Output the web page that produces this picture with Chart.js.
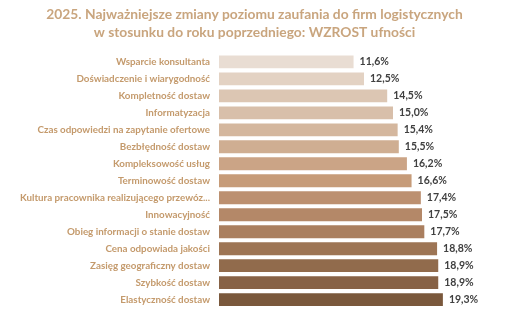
<!DOCTYPE html>
<html>
<head>
<meta charset="utf-8">
<script src="https://cdn.jsdelivr.net/npm/chart.js@4.4.1/dist/chart.umd.min.js"></script>
<style>
    html, body { margin: 0; padding: 0; background: #fff; }
    #wrap { width: 511px; height: 323px; position: relative; }
</style>
</head>
<body>
<div id="wrap"><canvas id="trustChart"></canvas></div>
<script>
// 2025 - increase in trust, values in %
const categories = [
    'Wsparcie konsultanta',
    'Doświadczenie i wiarygodność',
    'Kompletność dostaw',
    'Informatyzacja',
    'Czas odpowiedzi na zapytanie ofertowe',
    'Bezbłędność dostaw',
    'Kompleksowość usług',
    'Terminowość dostaw',
    'Kultura pracownika realizującego przewóz...',
    'Innowacyjność',
    'Obieg informacji o stanie dostaw',
    'Cena odpowiada jakości',
    'Zasięg geograficzny dostaw',
    'Szybkość dostaw',
    'Elastyczność dostaw'
];
const increase = [11.6, 12.5, 14.5, 15.0, 15.4, 15.5, 16.2, 16.6, 17.4, 17.5, 17.7, 18.8, 18.9, 18.9, 19.3];
const barColors = [
    '#e9ddd3', '#e3d2c3', '#dcc6b3', '#d8bfaa', '#d4b79e',
    '#cfae92', '#cba486', '#c69b78', '#bc9070', '#b48868',
    '#aa7f5f', '#9d7555', '#916b4c', '#876246', '#7a583c'
];

const FONT = 'Lato, "Open Sans", sans-serif';

// draws "11,6%" right of every bar
const valueLabels = {
    id: 'valueLabels',
    afterDatasetsDraw(chart) {
        const ctx = chart.ctx;
        const meta = chart.getDatasetMeta(0);
        ctx.save();
        ctx.font = 'bold 10.5px ' + FONT;
        ctx.fillStyle = '#404040';
        ctx.textBaseline = 'middle';
        ctx.textAlign = 'left';
        meta.data.forEach((bar, i) => {
            const txt = increase[i].toFixed(1).replace('.', ',') + '%';
            ctx.fillText(txt, bar.x + 6, bar.y);
        });
        ctx.restore();
    }
};

new Chart(document.getElementById('trustChart'), {
    type: 'bar',
    data: {
        labels: categories,
        datasets: [{
            data: increase,
            backgroundColor: barColors,
            borderWidth: 0,
            barPercentage: 0.76,
            categoryPercentage: 1.0
        }]
    },
    options: {
        indexAxis: 'y',
        responsive: true,
        maintainAspectRatio: false,
        animation: false,
        layout: { padding: { left: 0, right: 2, top: 0, bottom: 0 } },
        plugins: {
            legend: { display: false },
            tooltip: { enabled: false },
            title: {
                display: true,
                text: [
                    '2025. Najważniejsze zmiany poziomu zaufania do firm logistycznych',
                    'w stosunku do roku poprzedniego: WZROST ufności'
                ],
                color: '#c9a57e',
                font: { family: FONT, size: 13.8, weight: 'bold', lineHeight: 1.32 },
                padding: { top: 5, bottom: 12 }
            }
        },
        scales: {
            x: {
                display: false,
                min: 0,
                max: 25
            },
            y: {
                grid: { display: false, drawTicks: false },
                border: { display: false },
                ticks: {
                    color: '#c49a6c',
                    font: { family: FONT, size: 9.8, weight: 'bold' },
                    padding: 9,
                    autoSkip: false
                },
                afterFit(scale) { scale.width = 219; }
            }
        }
    },
    plugins: [valueLabels]
});
</script>
</body>
</html>
